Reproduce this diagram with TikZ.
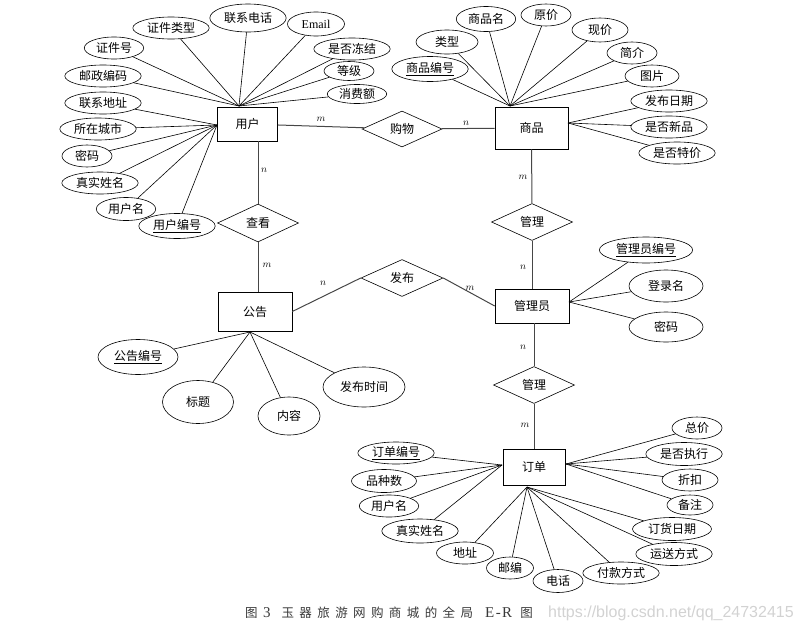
\documentclass[tikz,border=0pt]{standalone}
\usepackage{fontspec}
\newfontfamily\cjk{Noto Sans CJK SC}
\newfontfamily\lat{Liberation Serif}
\newfontfamily\wmfont{Liberation Sans}
\usepackage{tikz}
\usetikzlibrary{shapes.geometric}
\newcommand{\capgap}{\hspace{5.4pt}}

\begin{document}
\begin{tikzpicture}[
    x=1pt, y=-1pt,
    every node/.style={font=\cjk\fontsize{12}{14}\selectfont},
    entity/.style={draw, line width=0.6pt, minimum width=60, minimum height=34, inner sep=0pt},
    relation/.style={draw, diamond, aspect=2, line width=0.6pt, minimum width=81, minimum height=37, inner sep=0pt},
    attr/.style={draw, ellipse, line width=0.6pt, inner xsep=3pt, inner ysep=0pt, minimum width=50, minimum height=22},
    card/.style={font=\fontsize{10}{12}\selectfont, inner sep=1pt},
    link/.style={draw=gray!55!black, line width=1pt},
    attrline/.style={draw=black, line width=0.6pt}
]
    \useasboundingbox (0,0) rectangle (803,632);

    % Entities
    \node[entity] (yonghu) at (247.5,124) {用户};
    \node[entity, minimum width=73, minimum height=42] (shangpin) at (531.5,128) {商品};
    \node[entity, minimum width=74, minimum height=39] (gonggao) at (255,311.5) {公告};
    \node[entity, minimum width=74] (guanliyuan) at (532,306) {管理员};
    \node[entity, minimum width=62, minimum height=36] (dingdan) at (534,467) {订单};

    % Relations
    \node[relation, minimum width=80, minimum height=36] (gouwu) at (402,129) {购物};
    \node[relation, minimum height=38] (chakan) at (258,223) {查看};
    \node[relation] (guanli1) at (532,222) {管理};
    \node[relation, minimum width=82] (fabu) at (402,278) {发布};
    \node[relation] (guanli2) at (534,385) {管理};

    \draw[link] (yonghu) -- (gouwu);
    \draw[link] (gouwu) -- (shangpin);
    \draw[link] (chakan.north |- yonghu.south) -- (chakan.north);
    \draw[link] (chakan.south) -- (chakan.south |- gonggao.north);
    \draw[link] (gonggao.east) -- (fabu.west);
    \draw[link] (fabu.east) -- (guanliyuan.west);
    \draw[link] (shangpin) -- (guanli1);
    \draw[link] (guanli1) -- (guanliyuan);
    \draw[link] (guanliyuan.south -| guanli2.north) -- (guanli2.north);
    \draw[link] (guanli2) -- (dingdan);

    % Cardinalities
    \node[card] (c_ug) at (321,119) {$m$};
    \node[card] (c_gs) at (466,123) {$n$};
    \node[card] (c_uc) at (264,170) {$n$};
    \node[card] (c_cg) at (267,265) {$m$};
    \node[card] (c_gf) at (323,283) {$n$};
    \node[card] (c_fa) at (470,288) {$m$};
    \node[card] (c_sg) at (523,177) {$m$};
    \node[card] (c_ga) at (523,267) {$n$};
    \node[card] (c_ag) at (523,347) {$n$};
    \node[card] (c_gd) at (525,425) {$m$};

    % User attributes
    \coordinate (u_top) at (239,106);
    \coordinate (u_left) at (217,125);
    \node[attr] (zjh) at (114,48) {证件号};
    \node[attr] (zjlx) at (171,28) {证件类型};
    \node[attr, minimum height=28] (lxdh) at (248,18) {联系电话};
    \node[attr, minimum width=57, minimum height=24] (email) at (316,24) {\lat Email};
    \node[attr] (sfdj) at (352,49) {是否冻结};
    \node[attr, minimum height=19] (dj) at (349,71) {等级};
    \node[attr, minimum height=19] (xfe) at (357,94) {消费额};
    \node[attr] (yzbm) at (103,76) {邮政编码};
    \node[attr] (lxdz) at (103,103) {联系地址};
    \node[attr] (szcs) at (98,129) {所在城市};
    \node[attr] (mm) at (87,156) {密码};
    \node[attr] (zsxm) at (100,183) {真实姓名};
    \node[attr, minimum height=23] (yhm) at (126,209) {用户名};
    \node[attr, minimum height=25] (yhbh) at (177,226) {\underline{用户编号}};

    \draw[attrline] (zjh) -- (u_top);
    \draw[attrline] (zjlx) -- (u_top);
    \draw[attrline] (lxdh) -- (u_top);
    \draw[attrline] (email) -- (u_top);
    \draw[attrline] (sfdj) -- (u_top);
    \draw[attrline] (dj) -- (u_top);
    \draw[attrline] (xfe) -- (u_top);
    \draw[attrline] (yzbm) -- (u_top);
    \draw[attrline] (lxdz) -- (u_left);
    \draw[attrline] (szcs) -- (u_left);
    \draw[attrline] (mm) -- (u_left);
    \draw[attrline] (zsxm) -- (u_left);
    \draw[attrline] (yhm) -- (u_left);
    \draw[attrline] (yhbh) -- (u_left);

    % Goods attributes
    \coordinate (s_top) at (510,106);
    \coordinate (s_right) at (568,123);
    \node[attr, minimum height=25] (spm) at (486,19) {商品名};
    \node[attr] (yj) at (546,15) {原价};
    \node[attr, minimum width=56, minimum height=24] (xj) at (600,30) {现价};
    \node[attr, minimum width=62, minimum height=24] (lx) at (447,42) {类型};
    \node[attr] (jj) at (632,53) {简介};
    \node[attr, minimum height=25] (spbh) at (430,69) {\underline{商品编号}};
    \node[attr, minimum width=54] (tp) at (652,76) {图片};
    \node[attr] (fbrq) at (669,101) {发布日期};
    \node[attr] (sfxp) at (669,127) {是否新品};
    \node[attr] (sftj) at (677,153) {是否特价};

    \draw[attrline] (spbh) -- (s_top);
    \draw[attrline] (lx) -- (s_top);
    \draw[attrline] (spm) -- (s_top);
    \draw[attrline] (yj) -- (s_top);
    \draw[attrline] (xj) -- (s_top);
    \draw[attrline] (jj) -- (s_top);
    \draw[attrline] (tp) -- (s_top);
    \draw[attrline] (fbrq) -- (s_right);
    \draw[attrline] (sfxp) -- (s_right);
    \draw[attrline] (sftj) -- (s_right);

    % Admin attributes
    \coordinate (a_right) at (569,302);
    \node[attr, minimum width=90, minimum height=26] (glybh) at (646,250) {\underline{管理员编号}};
    \node[attr, minimum width=74, minimum height=32] (dlm) at (666,286) {登录名};
    \node[attr, minimum width=74, minimum height=30] (gmm) at (666,327) {密码};

    \draw[attrline] (glybh) -- (a_right);
    \draw[attrline] (dlm) -- (a_right);
    \draw[attrline] (gmm) -- (a_right);

    % Notice attributes
    \coordinate (g_bot) at (250,332);
    \node[attr, minimum width=80, minimum height=35] (ggbh) at (138,357) {\underline{公告编号}};
    \node[attr, minimum width=71, minimum height=43] (bt) at (198,402) {标题};
    \node[attr, minimum width=62, minimum height=38] (nr) at (289,416) {内容};
    \node[attr, minimum width=82, minimum height=40] (fbsj) at (364,387) {发布时间};

    \draw[attrline] (ggbh) -- (g_bot);
    \draw[attrline] (bt) -- (g_bot);
    \draw[attrline] (nr) -- (g_bot);
    \draw[attrline] (fbsj) -- (g_bot);

    % Order attributes
    \coordinate (d_left) at (502,465);
    \coordinate (d_right) at (566,464);
    \coordinate (d_bot) at (527,487);
    \node[attr] (ddbh) at (396,453) {\underline{订单编号}};
    \node[attr, minimum width=65, minimum height=23] (pzs) at (384,481) {品种数};
    \node[attr] (dyhm) at (389,506) {用户名};
    \node[attr, minimum height=24] (dzsxm) at (420,531) {真实姓名};
    \node[attr, minimum width=57] (dz) at (465,553) {地址};
    \node[attr, minimum width=47] (yb) at (510,568) {邮编};
    \node[attr, minimum height=23] (dh) at (558,581) {电话};
    \node[attr] (fkfs) at (621,573) {付款方式};
    \node[attr, minimum height=23] (ysfs) at (674,554) {运送方式};
    \node[attr, minimum width=79, minimum height=23] (dhrq) at (672,529) {订货日期};
    \node[attr, minimum width=46, minimum height=20] (bz) at (690,505) {备注};
    \node[attr, minimum width=56] (zk) at (690,480) {折扣};
    \node[attr, minimum height=23] (sfzx) at (684,454) {是否执行};
    \node[attr] (zj) at (697,428) {总价};

    \draw[attrline] (ddbh) -- (d_left);
    \draw[attrline] (pzs) -- (d_left);
    \draw[attrline] (dyhm) -- (d_left);
    \draw[attrline] (dzsxm) -- (d_left);
    \draw[attrline] (dz) -- (d_bot);
    \draw[attrline] (yb) -- (d_bot);
    \draw[attrline] (dh) -- (d_bot);
    \draw[attrline] (fkfs) -- (d_bot);
    \draw[attrline] (ysfs) -- (d_bot);
    \draw[attrline] (dhrq) -- (d_bot);
    \draw[attrline] (bz) -- (d_right);
    \draw[attrline] (zk) -- (d_right);
    \draw[attrline] (sfzx) -- (d_right);
    \draw[attrline] (zj) -- (d_right);

    % Caption
    \node[anchor=west, inner sep=0pt, text=black!78, font=\cjk\fontsize{12.5}{14}\selectfont] (caption) at (245,613)
        {图\capgap{\lat\fontsize{15}{16}\selectfont 3}\hspace{11pt}玉\capgap 器\capgap 旅\capgap 游\capgap 网\capgap 购\capgap 商\capgap 城\capgap 的\capgap 全\capgap 局\hspace{12pt}{\lat\fontsize{15}{16}\selectfont E\hspace{1.5pt}-\hspace{1.5pt}R}\hspace{8pt}图};
    \node[anchor=west, inner sep=0pt, text=gray!35, font=\wmfont\fontsize{16}{18}\selectfont] (watermark) at (548,613)
        {https://blog.csdn.net/qq\_24732415};

\end{tikzpicture}
\end{document}
